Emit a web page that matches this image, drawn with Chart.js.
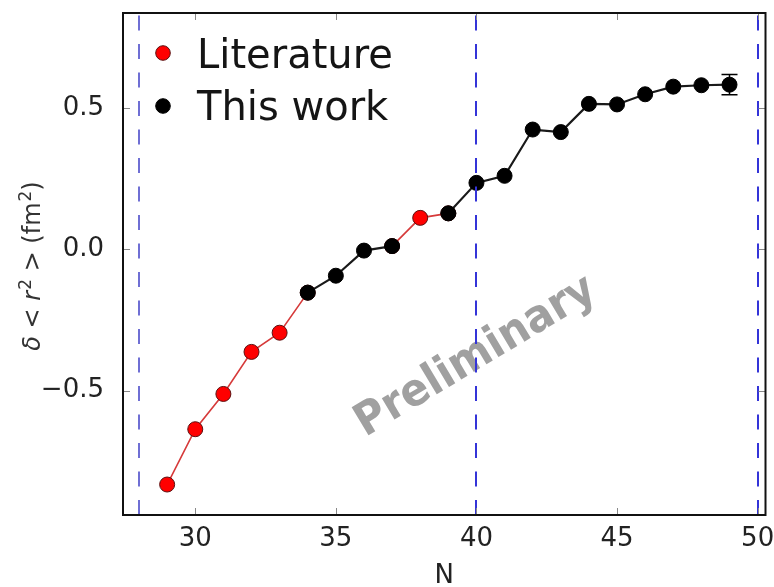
<!DOCTYPE html>
<html>
<head>
<meta charset="utf-8">
<script src="https://cdn.jsdelivr.net/npm/chart.js@4.4.1/dist/chart.umd.min.js"></script>
<style>
  body { margin: 0; background: #fff; }
  #wrap { width: 774px; height: 587px; }
</style>
</head>
<body>
<div id="wrap"><canvas id="chart"></canvas></div>
<script>
// data
const nValues = [29, 30, 31, 32, 33, 34, 35, 36, 37, 38, 39, 40, 41, 42, 43, 44, 45, 46, 47, 48, 49];
const literature = [-0.833, -0.637, -0.512, -0.363, -0.295, -0.153, null, null, 0.012, 0.112, 0.128,
  null, null, null, null, null, null, null, null, null, null];
const thisWork = [null, null, null, null, null, -0.153, -0.093, -0.004, 0.012, null, 0.128,
  0.236, 0.261, 0.425, 0.416, 0.516, 0.514, 0.550, 0.577, 0.582, 0.584];
const thisWorkErr = [null, null, null, null, null, null, null, null, null, null, null,
  null, null, null, null, null, null, null, null, null, 0.036];
const shellLines = [28, 40, 50];
const xTicks = [30, 35, 40, 45, 50];
const yTicks = [-0.5, 0.0, 0.5];

const FONT = "DejaVu Sans";

function toPoints(vals) {
  return nValues.map((n, i) => ({ x: n, y: vals[i] }));
}

// watermark under the data
const watermark = {
  id: "watermark",
  beforeDatasetsDraw(chart) {
    const ctx = chart.ctx;
    ctx.save();
    ctx.translate(476, 357);
    ctx.rotate(-31 * Math.PI / 180);
    ctx.font = "bold 45px " + FONT;
    ctx.fillStyle = "#a0a0a0";
    ctx.textAlign = "center";
    ctx.textBaseline = "middle";
    ctx.scale(0.93, 1);
    ctx.fillText("Preliminary", 0, 0);
    ctx.restore();
  }
};

// error bars + dashed shell closures
const overlays = {
  id: "overlays",
  afterDatasetsDraw(chart) {
    const { ctx, chartArea: { top, bottom } } = chart;
    const xs = chart.scales.x, ys = chart.scales.y;
    ctx.save();
    ctx.strokeStyle = "#000";
    ctx.lineWidth = 1.5;
    thisWorkErr.forEach((e, i) => {
      if (e == null) return;
      const px = xs.getPixelForValue(nValues[i]);
      const y1 = ys.getPixelForValue(thisWork[i] + e);
      const y2 = ys.getPixelForValue(thisWork[i] - e);
      ctx.beginPath();
      ctx.moveTo(px, y1); ctx.lineTo(px, y2);
      ctx.moveTo(px - 8, y1); ctx.lineTo(px + 8, y1);
      ctx.moveTo(px - 8, y2); ctx.lineTo(px + 8, y2);
      ctx.stroke();
    });
    ctx.lineWidth = 2;
    ctx.setLineDash([15, 13.5]);
    shellLines.forEach((v, i) => {
      const px = Math.round(xs.getPixelForValue(v));
      ctx.strokeStyle = i === 0 ? "#6f6fd4" : "#3434d8";
      ctx.beginPath();
      ctx.moveTo(px, bottom);
      ctx.lineTo(px, top);
      ctx.stroke();
    });
    ctx.restore();
  }
};

// frame, inward ticks, legend, y title
const decorations = {
  id: "decorations",
  afterDraw(chart) {
    const { ctx, chartArea: { left, right, top, bottom } } = chart;
    const xs = chart.scales.x, ys = chart.scales.y;
    ctx.save();
    ctx.strokeStyle = "#888";
    ctx.lineWidth = 1;
    ctx.beginPath();
    xTicks.forEach(v => {
      const px = Math.round(xs.getPixelForValue(v)) + 0.5;
      ctx.moveTo(px, bottom); ctx.lineTo(px, bottom - 7);
      ctx.moveTo(px, top); ctx.lineTo(px, top + 7);
    });
    yTicks.forEach(v => {
      const py = Math.round(ys.getPixelForValue(v)) + 0.5;
      ctx.moveTo(left, py); ctx.lineTo(left + 7, py);
      ctx.moveTo(right, py); ctx.lineTo(right - 7, py);
    });
    ctx.stroke();

    ctx.strokeStyle = "#111";
    ctx.lineWidth = 2;
    ctx.strokeRect(left, top, right - left, bottom - top);

    // legend
    chart.data.datasets.forEach((ds, i) => {
      const cy = 53 + i * 53;
      ctx.beginPath();
      ctx.arc(163, cy, 7.3, 0, Math.PI * 2);
      ctx.fillStyle = ds.pointBackgroundColor;
      ctx.fill();
      ctx.lineWidth = 1;
      ctx.strokeStyle = ds.pointBorderColor;
      ctx.stroke();
      ctx.fillStyle = "#151515";
      ctx.font = "40px " + FONT;
      ctx.textAlign = "left";
      ctx.textBaseline = "alphabetic";
      ctx.fillText(ds.label, 197, 68 + i * 52);
    });

    // y axis title with italic math parts and raised superscripts
    const parts = [
      { t: "\u03b4", it: true }, { t: " < " }, { t: "r", it: true }, { t: "2", sup: true },
      { t: " > (fm" }, { t: "2", sup: true }, { t: ")" }
    ];
    const size = 24;
    const fontFor = p => (p.it ? "italic " : "") + (p.sup ? Math.round(size * 0.7) : size) + "px " + FONT;
    ctx.translate(32, 266);
    ctx.rotate(-Math.PI / 2);
    ctx.fillStyle = "#333";
    ctx.textBaseline = "alphabetic";
    let w = 0;
    parts.forEach(p => {
      ctx.font = fontFor(p);
      p.w = ctx.measureText(p.t).width + (p.sup ? 1 : 0);
      w += p.w;
    });
    let x = -w / 2;
    parts.forEach(p => {
      ctx.font = fontFor(p);
      ctx.fillText(p.t, x + (p.sup ? 1 : 0), p.sup ? -1 : 8);
      x += p.w;
    });
    ctx.restore();
  }
};

function fmt(v) {
  return v < 0 ? "\u2212" + Math.abs(v).toFixed(1) : v.toFixed(1);
}

const config = {
  type: "line",
  data: {
    datasets: [
      {
        label: "Literature",
        data: toPoints(literature),
        borderColor: "#d63a3a",
        borderWidth: 1.6,
        pointBackgroundColor: "#ff0000",
        pointBorderColor: "#5a1010",
        pointBorderWidth: 1,
        pointRadius: 7.5,
        spanGaps: false,
        order: 2,
      },
      {
        label: "This work",
        data: toPoints(thisWork),
        borderColor: "#1a1a1a",
        borderWidth: 2.2,
        pointBackgroundColor: "#000000",
        pointBorderColor: "#000000",
        pointBorderWidth: 1,
        pointRadius: 7.5,
        spanGaps: false,
        order: 1,
      },
    ],
  },
  options: {
    responsive: true,
    maintainAspectRatio: false,
    animation: false,
    layout: { padding: { left: 0, top: 13, right: 4, bottom: 0 } },
    plugins: {
      legend: { display: false },
      tooltip: { enabled: false },
    },
    scales: {
      x: {
        type: "linear",
        min: 27.43,
        max: 50.28,
        grid: { display: false },
        border: { display: false },
        afterBuildTicks(scale) { scale.ticks = xTicks.map(v => ({ value: v })); },
        afterFit(scale) { scale.height = 72; scale.paddingLeft = 0; scale.paddingRight = 0; },
        ticks: {
          color: "#222",
          font: { family: FONT, size: 26 },
          padding: 1,
          maxRotation: 0,
        },
        title: {
          display: true,
          text: "N",
          color: "#222",
          font: { family: FONT, size: 26 },
          padding: { top: 0, bottom: -5 },
        },
      },
      y: {
        min: -0.941,
        max: 0.838,
        grid: { display: false },
        border: { display: false },
        afterBuildTicks(scale) { scale.ticks = yTicks.map(v => ({ value: v })); },
        afterFit(scale) { scale.width = 123; scale.paddingTop = 0; scale.paddingBottom = 0; },
        ticks: {
          color: "#222",
          font: { family: FONT, size: 26 },
          padding: 11,
          callback: v => fmt(v),
        },
      },
    },
  },
  plugins: [watermark, overlays, decorations],
};

const chart = new Chart(document.getElementById("chart"), config);
</script>
</body>
</html>
